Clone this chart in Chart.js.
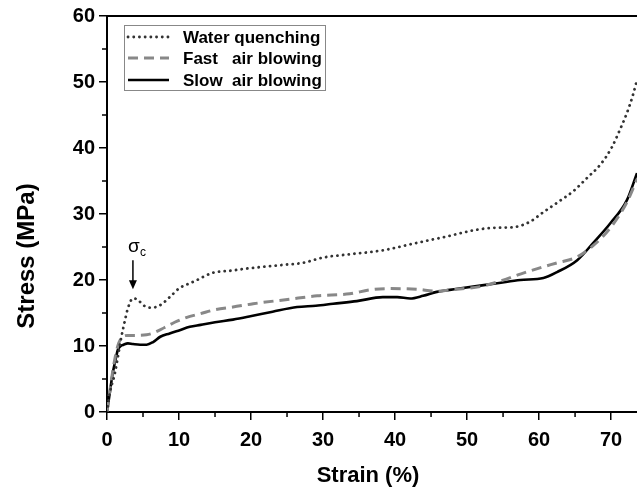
<!DOCTYPE html>
<html>
<head>
<meta charset="utf-8">
<script src="https://cdn.jsdelivr.net/npm/chart.js@4/dist/chart.umd.min.js"></script>
<style>
  html, body { margin: 0; padding: 0; background: #fff; }
  #wrap { width: 637px; height: 499px; }
</style>
</head>
<body>
<div id="wrap"><canvas id="stress-strain-chart" width="637" height="499"></canvas></div>
<script>

// values
const seriesNames = ['Water quenching', 'Fast   air blowing', 'Slow  air blowing'];

const waterStrain = [0, 0.4, 1.1, 1.5, 2.0, 2.5, 2.9, 3.6, 4.3, 5.0, 6.2, 7.4, 8.7, 10.1, 11.5, 12.5, 14.7, 17.1, 19.9, 21.7, 24.5, 27.2, 30.0, 33.7, 38.3, 42.5, 47.2, 50.8, 53.5, 56.4, 58.7, 60.5, 62.9, 64.8, 66.6, 68.6, 70.1, 71.2, 72.2, 73.0, 73.6];
const waterStress = [0, 2.9, 5.9, 8.3, 11.4, 13.9, 15.7, 17.2, 17.0, 16.2, 15.8, 16.2, 17.4, 18.8, 19.5, 20.0, 21.1, 21.4, 21.8, 22.0, 22.3, 22.6, 23.4, 23.9, 24.5, 25.5, 26.6, 27.5, 27.9, 28.0, 28.8, 30.2, 32.0, 33.5, 35.4, 37.6, 40.1, 42.7, 45.3, 47.9, 50.3];

const fastStrain = [0, 0.5, 1.0, 1.5, 2.0, 2.8, 4.0, 5.5, 6.5, 8.0, 9.4, 11.0, 13.0, 15.0, 17.5, 20.3, 25.4, 29.2, 33.7, 36.5, 39.3, 43.0, 45.8, 47.6, 51.8, 54.5, 57.4, 60.0, 62.5, 65.3, 67.5, 69.9, 72.2, 73.6];
const fastStress = [0, 4.0, 7.5, 10.0, 11.2, 11.6, 11.6, 11.7, 12.0, 12.8, 13.6, 14.3, 14.9, 15.5, 15.9, 16.4, 17.1, 17.6, 17.9, 18.5, 18.7, 18.6, 18.3, 18.5, 19.0, 19.8, 20.9, 21.8, 22.6, 23.5, 25.2, 27.9, 31.8, 35.3];

const slowStrain = [0, 0.4, 0.8, 1.2, 1.5, 1.9, 2.3, 2.9, 3.6, 4.6, 5.5, 6.4, 7.4, 8.7, 10.1, 11.5, 13.0, 15.0, 17.5, 19.9, 23.0, 26.4, 29.0, 31.4, 34.7, 38.3, 40.3, 42.1, 43.9, 45.8, 47.6, 49.4, 54.2, 57.4, 60.6, 62.5, 65.3, 67.5, 69.9, 72.2, 73.6];
const slowStress = [0, 3.0, 5.9, 8.0, 9.4, 10.0, 10.2, 10.4, 10.3, 10.2, 10.2, 10.6, 11.4, 11.9, 12.4, 12.9, 13.2, 13.6, 14.0, 14.5, 15.2, 15.9, 16.1, 16.4, 16.8, 17.4, 17.4, 17.2, 17.6, 18.2, 18.5, 18.8, 19.5, 20.0, 20.3, 21.2, 23.0, 25.6, 28.6, 32.1, 36.2];

const strainMax = 73.6;
const stressMax = 60;

// sigma_c marker: arrow from/to (strain, stress)
const sigmaMark = { x: 3.6, labelY: 24.8, fromY: 23.0, toY: 18.6 };

const toPoints = (xs, ys) => xs.map((x, i) => ({ x: x, y: ys[i] }));

const FONT = '"Liberation Sans", Arial, sans-serif';

const extrasPlugin = {
    id: 'extras',
    afterDraw(chart) {
        const ctx = chart.ctx;
        const area = chart.chartArea;
        const xs = chart.scales.x;
        const ys = chart.scales.y;
        ctx.save();

        // top frame line
        ctx.strokeStyle = '#000';
        ctx.lineWidth = 2;
        ctx.beginPath();
        ctx.moveTo(area.left, area.top);
        ctx.lineTo(area.right + 2, area.top);
        ctx.stroke();

        // minor ticks
        ctx.lineWidth = 1.5;
        ctx.beginPath();
        for (let v = 5; v < strainMax; v += 10) {
            const px = xs.getPixelForValue(v);
            ctx.moveTo(px, area.bottom);
            ctx.lineTo(px, area.bottom + 5);
        }
        for (let v = 5; v < stressMax; v += 10) {
            const py = ys.getPixelForValue(v);
            ctx.moveTo(area.left, py);
            ctx.lineTo(area.left - 5, py);
        }
        ctx.stroke();

        // axis titles
        ctx.fillStyle = '#000';
        ctx.font = 'bold 22px ' + FONT;
        ctx.textAlign = 'center';
        ctx.textBaseline = 'middle';
        ctx.fillText('Strain (%)', 368, 476);
        ctx.save();
        ctx.translate(27, 256);
        ctx.rotate(-Math.PI / 2);
        ctx.font = 'bold 24px ' + FONT;
        ctx.fillText('Stress (MPa)', 0, 0);
        ctx.restore();

        // legend
        ctx.strokeStyle = '#888';
        ctx.lineWidth = 1;
        ctx.strokeRect(124.5, 25.5, 201, 65);
        const rowsY = [37, 58, 80];
        chart.data.datasets.forEach((ds, i) => {
            ctx.strokeStyle = ds.borderColor;
            ctx.lineWidth = ds.borderWidth;
            ctx.lineCap = ds.borderCapStyle || 'butt';
            ctx.setLineDash(ds.borderDash || []);
            ctx.beginPath();
            ctx.moveTo(128, rowsY[i]);
            ctx.lineTo(169, rowsY[i]);
            ctx.stroke();
            ctx.setLineDash([]);
            ctx.lineCap = 'butt';
            ctx.fillStyle = '#000';
            ctx.font = 'bold 17px ' + FONT;
            ctx.textAlign = 'left';
            ctx.fillText(ds.label, 183, rowsY[i] + 1);
        });

        // sigma_c arrow
        const ax = xs.getPixelForValue(sigmaMark.x);
        const y0 = ys.getPixelForValue(sigmaMark.fromY);
        const y1 = ys.getPixelForValue(sigmaMark.toY);
        ctx.strokeStyle = '#000';
        ctx.fillStyle = '#000';
        ctx.lineWidth = 1.5;
        ctx.beginPath();
        ctx.moveTo(ax, y0);
        ctx.lineTo(ax, y1 - 6);
        ctx.stroke();
        ctx.beginPath();
        ctx.moveTo(ax - 4, y1 - 9);
        ctx.lineTo(ax + 4, y1 - 9);
        ctx.lineTo(ax, y1);
        ctx.closePath();
        ctx.fill();
        const sy = ys.getPixelForValue(sigmaMark.labelY);
        ctx.font = '19px ' + FONT;
        ctx.textAlign = 'center';
        ctx.fillText('σ', ax + 1, sy - 2);
        ctx.font = '12px ' + FONT;
        ctx.fillText('c', ax + 10, sy + 4);

        ctx.restore();
    }
};

const chartElement = document.getElementById('stress-strain-chart').getContext('2d');

const stressStrainChart = new Chart(chartElement, {
    type: 'line',
    data: {
        datasets: [{
            label: seriesNames[0],
            data: toPoints(waterStrain, waterStress),
            borderColor: '#333',
            borderWidth: 2.8,
            borderDash: [0.1, 5.6],
            borderCapStyle: 'round',
            pointRadius: 0,
            cubicInterpolationMode: 'monotone'
        }, {
            label: seriesNames[1],
            data: toPoints(fastStrain, fastStress),
            borderColor: '#888',
            borderWidth: 3,
            borderDash: [10, 6],
            pointRadius: 0,
            cubicInterpolationMode: 'monotone'
        }, {
            label: seriesNames[2],
            data: toPoints(slowStrain, slowStress),
            borderColor: '#000',
            borderWidth: 2.6,
            pointRadius: 0,
            cubicInterpolationMode: 'monotone'
        }]
    },
    options: {
        responsive: false,
        animation: false,
        layout: { padding: { top: 16, right: 0, left: 0, bottom: 0 } },
        plugins: {
            legend: { display: false },
            tooltip: { enabled: false }
        },
        scales: {
            x: {
                type: 'linear',
                min: 0,
                max: strainMax,
                afterFit: (scale) => { scale.height = 87; },
                border: { color: '#000', width: 2 },
                grid: { drawOnChartArea: false, drawTicks: true, tickLength: 8, color: '#000', lineWidth: 1.5 },
                ticks: {
                    stepSize: 10,
                    includeBounds: false,
                    maxRotation: 0,
                    padding: 8,
                    color: '#000',
                    font: { family: FONT, size: 20, weight: 'bold' }
                }
            },
            y: {
                min: 0,
                max: stressMax,
                afterFit: (scale) => { scale.width = 107; },
                border: { color: '#000', width: 2 },
                grid: { drawOnChartArea: false, drawTicks: true, tickLength: 8, color: '#000', lineWidth: 1.5 },
                ticks: {
                    stepSize: 10,
                    padding: 4,
                    color: '#000',
                    font: { family: FONT, size: 20, weight: 'bold' }
                }
            }
        }
    },
    plugins: [extrasPlugin]
});
</script>
</body>
</html>
